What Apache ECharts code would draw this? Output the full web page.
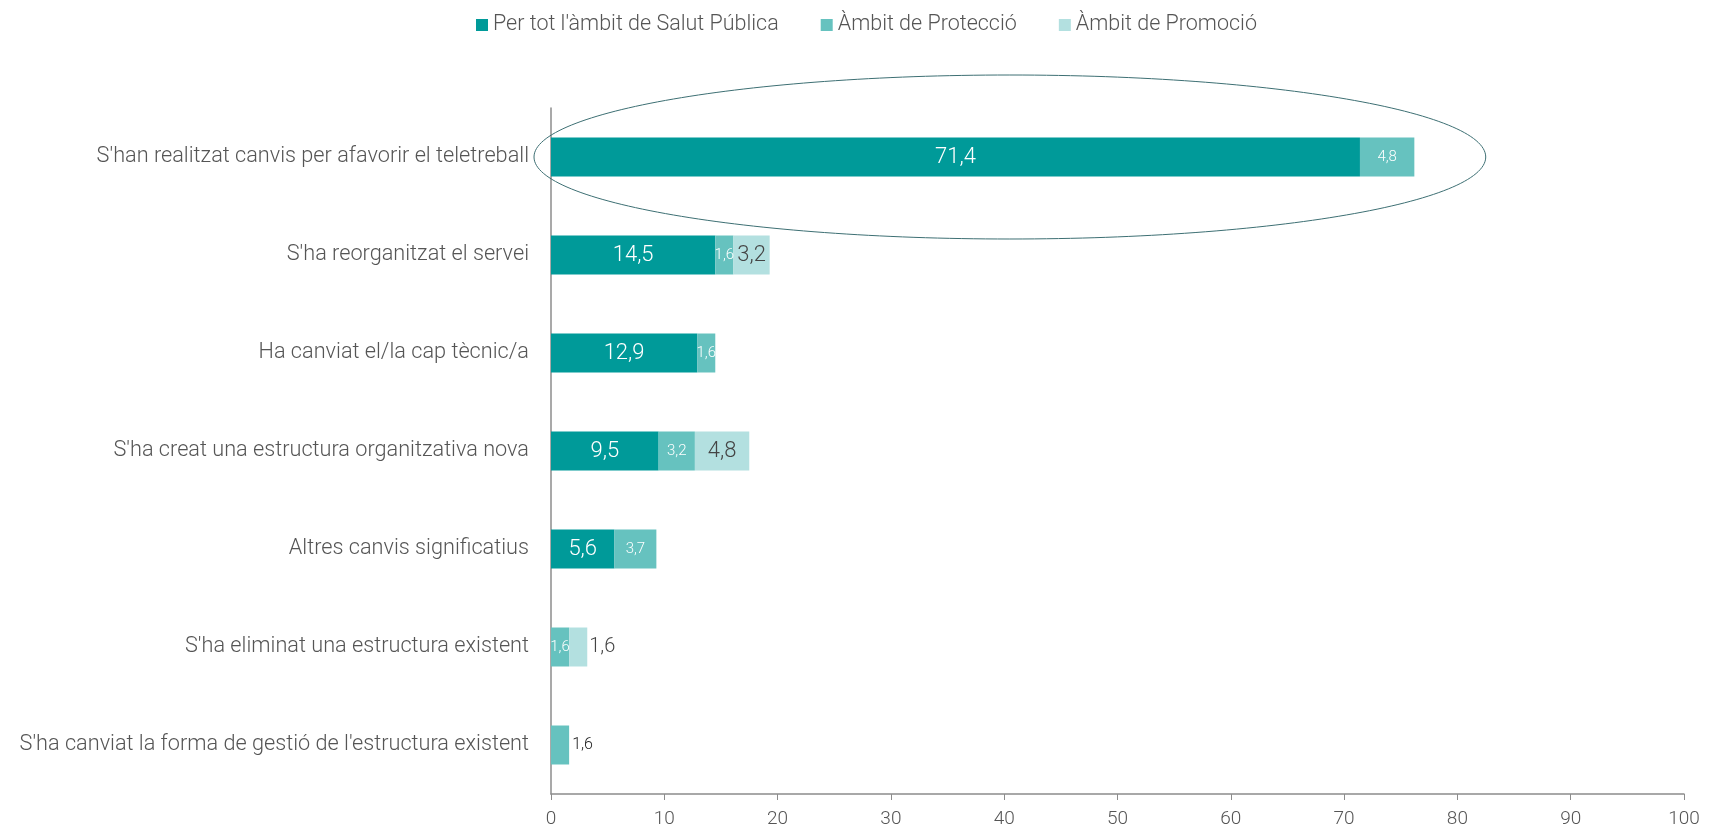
<!DOCTYPE html>
<html>
<head>
<meta charset="utf-8">
<script src="https://cdn.jsdelivr.net/npm/echarts@6/dist/echarts.min.js"></script>
<style>
  html, body { margin: 0; padding: 0; background: #fff; }
  #main { width: 1717px; height: 833px; }
</style>
</head>
<body>
<div id="main"></div>
<script>
// categories, top to bottom
const categories = [
  "S'han realitzat canvis per afavorir el teletreball",
  "S'ha reorganitzat el servei",
  "Ha canviat el/la cap tècnic/a",
  "S'ha creat una estructura organitzativa nova",
  "Altres canvis significatius",
  "S'ha eliminat una estructura existent",
  "S'ha canviat la forma de gestió de l'estructura existent"
];
const salutPublica = [71.4, 14.5, 12.9, 9.5, 5.6, null, null];
const proteccio = [4.8, 1.6, 1.6, 3.2, 3.7, 1.6, 1.6];
const promocio = [null, 3.2, null, 4.8, null, 1.6, null];

const FONT = 'Roboto';
const fmt = v => String(v).replace('.', ',');

// rows where the label sits outside the bar
const outsideProteccio = [6];
const outsidePromocio = [5];

function mkData(arr, outside, outsideLabel) {
  return arr.map((v, i) => {
    if (v == null) return null;
    if (outside.indexOf(i) >= 0) return { value: v, label: outsideLabel };
    return v;
  });
}

const chart = echarts.init(document.getElementById('main'));

const option = {
  animation: false,
  textStyle: { fontFamily: FONT },
  legend: {
    top: 9,
    left: 471,
    itemWidth: 12,
    itemHeight: 12,
    itemGap: 42,
    icon: 'rect',
    textStyle: { fontFamily: FONT, fontWeight: 300, fontSize: 21.5, color: '#555' },
    data: ["Per tot l'àmbit de Salut Pública", 'Àmbit de Protecció', 'Àmbit de Promoció']
  },
  grid: { left: 551, right: 33, top: 108, bottom: 39, containLabel: false },
  xAxis: {
    type: 'value',
    min: 0, max: 100, interval: 10,
    axisLine: { show: true, lineStyle: { color: '#8c8c8c', width: 1.5 } },
    axisTick: { show: true, length: 6, lineStyle: { color: '#8c8c8c' } },
    splitLine: { show: false },
    axisLabel: { fontFamily: FONT, fontWeight: 300, fontSize: 19, color: '#555', margin: 16 }
  },
  yAxis: {
    type: 'category',
    inverse: true,
    data: categories,
    axisLine: { show: true, lineStyle: { color: '#8c8c8c', width: 1.5 } },
    axisTick: { show: false },
    axisLabel: { fontFamily: FONT, fontWeight: 300, fontSize: 21.7, color: '#555', margin: 22 }
  },
  series: [
    {
      name: "Per tot l'àmbit de Salut Pública",
      type: 'bar', stack: 'a', barWidth: 39,
      itemStyle: { color: '#009a99' },
      label: { show: true, position: 'inside', color: '#fff', fontSize: 22, fontWeight: 300, fontFamily: FONT, formatter: p => fmt(p.value) },
      data: mkData(salutPublica, [], null)
    },
    {
      name: 'Àmbit de Protecció',
      type: 'bar', stack: 'a', barWidth: 39,
      itemStyle: { color: '#66c2bf' },
      label: { show: true, position: 'inside', color: '#fff', fontSize: 15, fontWeight: 300, fontFamily: FONT, formatter: p => fmt(p.value) },
      data: mkData(proteccio, outsideProteccio,
        { position: 'right', color: '#222', fontSize: 16, distance: 3 })
    },
    {
      name: 'Àmbit de Promoció',
      type: 'bar', stack: 'a', barWidth: 39,
      itemStyle: { color: '#b3e0e0' },
      label: { show: true, position: 'inside', color: '#444', fontSize: 22, fontWeight: 300, fontFamily: FONT, formatter: p => fmt(p.value) },
      data: mkData(promocio, outsidePromocio,
        { position: 'right', color: '#444', fontSize: 20, distance: 2 })
    }
  ]
};

chart.setOption(option);

// highlight ellipse around the first row
const c = chart.convertToPixel({ gridIndex: 0 }, [40.5, categories[0]]);
const r = chart.convertToPixel({ gridIndex: 0 }, [82.5, categories[0]]);
chart.setOption({
  graphic: [{
    type: 'ellipse',
    shape: { cx: c[0], cy: c[1], rx: r[0] - c[0], ry: 82 },
    style: { fill: 'none', stroke: '#3d6f73', lineWidth: 1 },
    z: 10
  }]
});
</script>
</body>
</html>
